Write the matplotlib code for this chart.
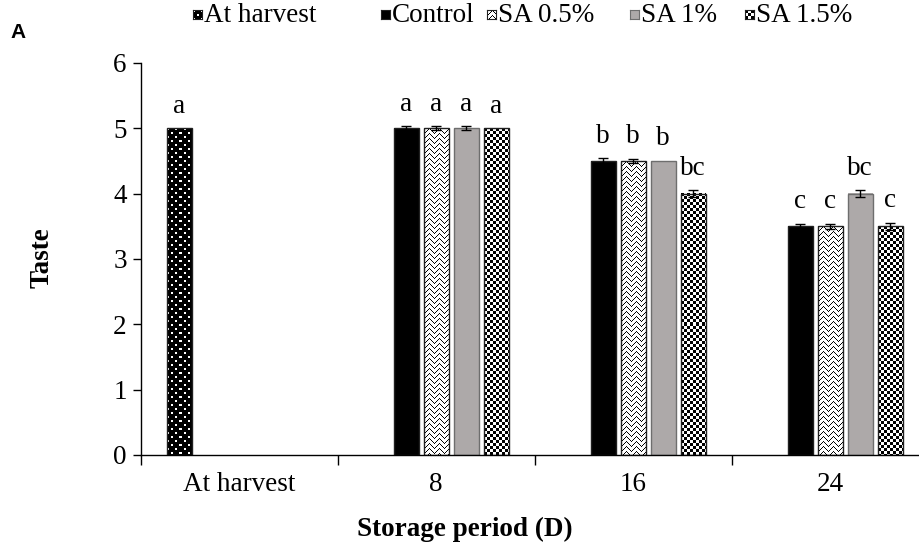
import numpy as np
import matplotlib
matplotlib.use("Agg")
from matplotlib import pyplot as plt
from matplotlib.patches import Rectangle

plt.rcParams['font.family'] = ['Liberation Serif', 'DejaVu Serif']

categories = ['At harvest', '8', '16', '24']
series_names = ['At harvest', 'Control', 'SA 0.5%', 'SA 1%', 'SA 1.5%']

nan = np.nan
at_harvest = [5.0, nan, nan, nan]
control = [nan, 5.0, 4.5, 3.5]
sa_05 = [nan, 5.0, 4.5, 3.5]
sa_1 = [nan, 5.0, 4.5, 4.0]
sa_15 = [nan, 5.0, 4.0, 3.5]

err_harvest = [0.0, nan, nan, nan]
err_control = [nan, 0.03, 0.04, 0.04]
err_sa_05 = [nan, 0.03, 0.03, 0.04]
err_sa_1 = [nan, 0.03, 0.0, 0.05]
err_sa_15 = [nan, 0.0, 0.05, 0.05]

let_harvest = ['a', '', '', '']
let_control = ['', 'a', 'b', 'c']
let_sa_05 = ['', 'a', 'b', 'c']
let_sa_1 = ['', 'a', 'b', 'bc']
let_sa_15 = ['', 'a', 'bc', 'c']

values = [at_harvest, control, sa_05, sa_1, sa_15]
errors = [err_harvest, err_control, err_sa_05, err_sa_1, err_sa_15]
letters = [let_harvest, let_control, let_sa_05, let_sa_1, let_sa_15]
fills = ['dots', 'black', 'zigzag', 'gray', 'checker']

GRAY = (0.68, 0.665, 0.665)
FS = 19.5


def pattern(kind, w, h):
    """RGB pixel array for a bar fill, one element per screen pixel."""
    w, h = max(int(round(w)), 1), max(int(round(h)), 1)
    yy, xx = np.mgrid[0:h, 0:w]
    if kind == 'dots':
        white = (((xx % 8) < 2) & ((yy % 8) < 2)) | \
                ((((xx + 4) % 8) < 2) & (((yy + 4) % 8) < 2))
        black = ~white
    elif kind == 'checker':
        black = ((xx // 3 + yy // 3) % 2) == 0
    elif kind == 'zigzag':
        x = xx % 10
        y = yy % 10
        black = ((x < 5) & (((x + y) % 5) == 0)) | ((x >= 5) & (((x - y) % 5) == 0))
    elif kind == 'black':
        black = np.ones((h, w), bool)
    else:
        img = np.ones((h, w, 3)) * np.array(GRAY)
        return img
    img = np.ones((h, w, 3))
    img[black] = 0.0
    return img


def fill_rect(ax, kind, x0, x1, y0, y1):
    p0 = ax.transData.transform((x0, y0))
    p1 = ax.transData.transform((x1, y1))
    w, h = abs(p1[0] - p0[0]), abs(p1[1] - p0[1])
    ax.imshow(pattern(kind, w, h), extent=(x0, x1, y0, y1), aspect='auto',
              interpolation='nearest', zorder=2)
    edge = '#6e6e6e' if kind == 'gray' else '#202020'
    ax.add_patch(Rectangle((x0, y0), x1 - x0, y1 - y0, fill=False,
                           edgecolor=edge, linewidth=1.0, zorder=3))


fig = plt.figure(figsize=(9.2, 5.47), dpi=100)
ax = fig.add_axes([140.7 / 920, 92 / 547, 788 / 920, 392 / 547])
ax.set_xlim(-0.5, 3.5)
ax.set_ylim(0, 6)
ax.set_autoscale_on(False)

slot = 30 / 197
bar_w = 25 / 197
x = np.arange(len(categories))

for k, (vals, errs, lets, kind) in enumerate(zip(values, errors, letters, fills)):
    for i, (v, e, t) in enumerate(zip(vals, errs, lets)):
        if np.isnan(v):
            continue
        xc = x[i] + (k - 2) * slot
        fill_rect(ax, kind, xc - bar_w / 2, xc + bar_w / 2, 0, v)
        if e > 0:
            ax.errorbar(xc, v, yerr=e, fmt='none', ecolor='black',
                        elinewidth=1, capsize=3.5, capthick=1, zorder=4)
        ax.annotate(t, (xc, v + e), xytext=(0, 7), textcoords='offset points',
                    ha='center', va='bottom', fontsize=FS)

for side in ['top', 'right']:
    ax.spines[side].set_visible(False)
for side in ['left', 'bottom']:
    ax.spines[side].set_linewidth(1.0)
    ax.spines[side].set_zorder(5)

ax.set_yticks(range(7))
ax.tick_params(axis='y', direction='out', length=6, width=1, labelsize=FS, pad=4)
ax.set_xticks(x)
ax.set_xticklabels(categories)
ax.tick_params(axis='x', which='major', length=0, labelsize=FS, pad=12)
ax.set_xticks(np.arange(-0.5, 4.0, 1.0), minor=True)
ax.tick_params(axis='x', which='minor', direction='out', length=7, width=1)

fig.text(465 / 920, 1 - 529 / 547, 'Storage period (D)', ha='center', va='center',
         fontsize=FS, fontweight='bold')
fig.text(42 / 920, 1 - 258 / 547, 'Taste', ha='center', va='center', rotation=90,
         fontsize=FS, fontweight='bold')
fig.text(10 / 920, 1 - 33 / 547, 'A', ha='left', va='center', fontsize=15,
         fontweight='bold', family='Liberation Sans')

# legend row: small pattern keys followed by labels
key_x = [193, 381, 487, 630, 745]
for name, kind, kx in zip(series_names, fills, key_x):
    kax = fig.add_axes([kx / 920, 1 - 19 / 547, 9 / 920, 9 / 547])
    kax.set_xlim(0, 1)
    kax.set_ylim(0, 1)
    kax.set_autoscale_on(False)
    kax.imshow(pattern(kind, 9, 9), extent=(0, 1, 0, 1), aspect='auto',
               interpolation='nearest')
    kax.set_xticks([])
    kax.set_yticks([])
    for s in kax.spines.values():
        s.set_linewidth(0.8)
        s.set_edgecolor('#6e6e6e' if kind == 'gray' else '#202020')
    fig.text((kx + 11) / 920, 1 - 15 / 547, name, ha='left', va='center', fontsize=FS)

fig.savefig('out.png', dpi=100)
